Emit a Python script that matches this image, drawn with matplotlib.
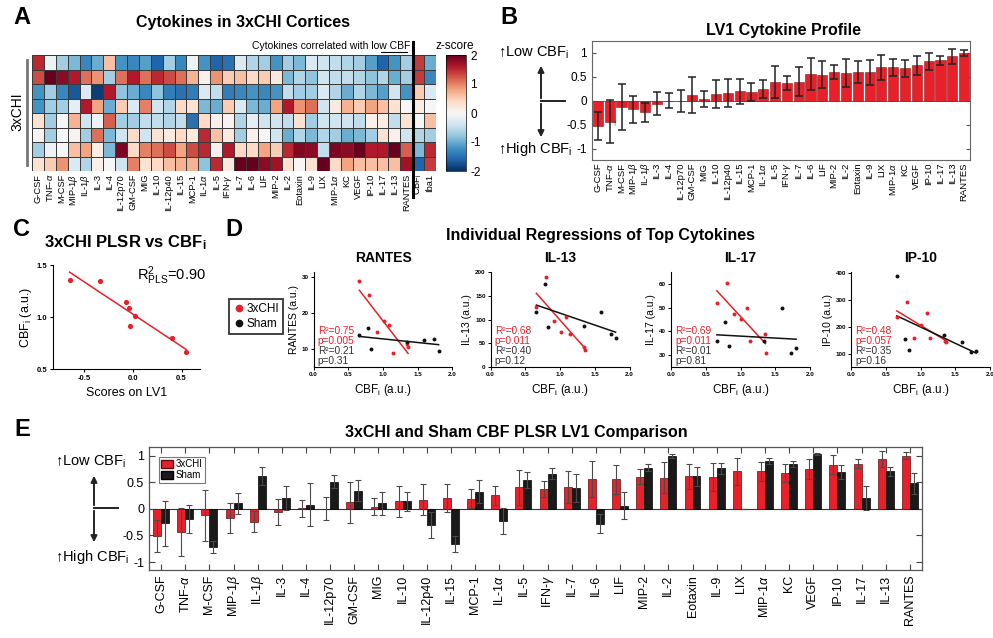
import numpy as np
import matplotlib.pyplot as plt
from matplotlib.lines import Line2D
from matplotlib.patches import FancyArrowPatch, Patch

plt.rcParams['font.family'] = ['Liberation Sans', 'DejaVu Sans']
plt.rcParams['mathtext.fontset'] = 'custom'
plt.rcParams['mathtext.rm'] = 'Liberation Sans'
plt.rcParams['mathtext.it'] = 'Liberation Sans:italic'
plt.rcParams['mathtext.bf'] = 'Liberation Sans:bold'
plt.rcParams['axes.unicode_minus'] = False

# ---------------- data ----------------
cytokines = ['G-CSF', r'TNF-$\alpha$', 'M-CSF', r'MIP-1$\beta$', r'IL-1$\beta$', 'IL-3', 'IL-4',
             'IL-12p70', 'GM-CSF', 'MIG', 'IL-10', 'IL-12p40', 'IL-15', 'MCP-1', r'IL-1$\alpha$',
             'IL-5', r'IFN-$\gamma$', 'IL-7', 'IL-6', 'LIF', 'MIP-2', 'IL-2', 'Eotaxin', 'IL-9',
             'LIX', r'MIP-1$\alpha$', 'KC', 'VEGF', 'IP-10', 'IL-17', 'IL-13', 'RANTES']
heat_cols = cytokines + [r'CBF$_\mathregular{i}$', 'Iba1']

# z-scores, 8 animals x 34 columns
zscores = [
    [1.5, -0.1, -0.7, -0.9, -1.3, -1.0, 0.6, -1.2, -1.3, -1.1, -1.6, -0.7, -1.3, -0.1, -1.2, -1.6, -1.5,
     -0.3, -0.6, -0.7, -1.2, -0.7, -0.9, -0.3, -0.4, -0.5, -0.6, -0.7, -1.1, -1.6, -1.2, -0.7, 1.4, -1.0],
    [1.3, 2.0, 1.8, 1.6, 1.1, 0.9, -0.7, 1.1, 1.6, 1.1, 1.5, 1.3, 1.1, 0.7, 0.1, 0.9, 0.5,
     0.6, 0.4, 0.5, 0.2, -0.9, -0.6, -0.8, -0.4, -0.5, -0.5, -0.6, -0.8, -0.6, -1.0, -0.7, 1.4, -1.3],
    [-1.2, -0.7, -1.3, -1.7, -0.3, -1.9, 1.6, -0.8, -1.0, -1.3, -0.8, -1.4, -1.5, -1.4, -0.3, -0.5, -1.4,
     -1.3, -1.2, -1.3, -1.2, -0.5, -0.7, -0.7, -0.3, -0.6, -1.0, -0.6, -0.9, -1.1, -0.4, -1.2, 0.5, -0.3],
    [-1.2, -0.7, -0.7, -0.2, 1.6, 0.8, -1.0, 0.5, -0.3, 1.0, -0.4, -0.6, 0.4, 0.3, -0.9, -1.0, 0.5,
     -0.3, -0.9, -1.0, 0.8, 1.6, 0.9, 1.1, -0.4, 0.2, 0.7, 0.5, 0.8, 0.6, 0.3, 0.0, 0.15, 0.0],
    [0.3, -0.7, 0.0, 0.7, -0.4, -0.1, 1.2, -0.7, -0.7, -0.5, -0.5, -0.6, -0.5, -1.5, 0.4, 0.1, 0.05,
     -0.6, -0.2, -0.4, -0.4, -0.5, 0.3, -0.7, -0.4, -0.4, -0.4, -0.5, 0.1, 0.15, -0.5, 0.3, 0.0, 0.6],
    [0.05, -0.7, 0.0, 0.05, -0.7, 1.1, -0.9, -0.4, 0.4, -0.4, 0.3, 0.2, 0.4, 0.2, 1.5, 0.6, 0.2,
     -0.7, 0.1, 0.0, -0.4, -1.0, -0.6, -0.9, -0.6, -0.7, -1.0, -0.9, -0.7, 0.3, 0.1, -0.4, -0.6, -0.7],
    [-0.7, -0.1, 0.0, 0.6, 0.8, 0.15, -0.9, 1.9, 0.4, 1.0, 1.1, 1.3, 0.8, 1.3, 1.5, 0.1, 1.6,
     0.4, 0.4, 0.8, 0.5, 1.5, 1.85, 1.8, -0.5, 1.9, 1.8, 2.0, 1.6, 1.6, 2.0, 1.2, -0.9, 1.5],
    [0.3, 0.5, 0.9, -0.3, -0.6, 0.1, 0.0, -0.4, 1.0, 0.3, 0.4, 0.6, 0.7, 0.7, -0.8, 1.5, 0.2,
     2.0, 2.0, 1.8, 1.7, 0.3, 0.0, 0.3, 2.0, 0.4, 0.8, 0.6, 0.6, 0.6, 0.6, 1.7, -1.6, 1.4],
]

# LV1 loadings (3xCHI) and error, LV1 loadings (Sham) and error
lv1_3xchi = [-0.52, -0.43, -0.12, -0.17, -0.24, -0.06, 0.01, 0.0, 0.12, 0.04, 0.14, 0.17, 0.20, 0.19,
             0.25, 0.40, 0.38, 0.40, 0.56, 0.55, 0.60, 0.58, 0.61, 0.60, 0.70, 0.70, 0.68, 0.74,
             0.83, 0.85, 0.93, 1.00]
lv1_3xchi_err = [0.30, 0.45, 0.48, 0.28, 0.20, 0.24, 0.16, 0.22, 0.38, 0.16, 0.29, 0.29, 0.26, 0.18,
                 0.18, 0.33, 0.15, 0.30, 0.33, 0.28, 0.14, 0.29, 0.23, 0.26, 0.26, 0.17, 0.17, 0.19,
                 0.18, 0.09, 0.15, 0.06]
lv1_sham = [-0.27, -0.19, -0.72, 0.10, 0.61, 0.20, 0.08, 0.51, 0.34, 0.10, 0.14, -0.31, -0.67, 0.32,
            -0.23, 0.54, 0.66, 0.39, -0.28, 0.06, 0.77, 0.99, 0.61, 0.76, 0.0, 0.90, 0.84, 1.03,
            0.69, 0.20, 0.70, 0.48]
lv1_sham_err = [0.42, 0.27, 0.12, 0.19, 0.17, 0.23, 0.41, 0.12, 0.20, 0.21, 0.18, 0.24, 0.15, 0.22,
                0.24, 0.15, 0.10, 0.26, 0.18, 0.26, 0.07, 0.04, 0.18, 0.10, 0.0, 0.05, 0.06, 0.02,
                0.13, 0.23, 0.09, 0.20]

# per-animal CBFi
cbf_3xchi = [0.66, 0.80, 0.91, 1.01, 1.09, 1.14, 1.35, 1.36]
cbf_sham = [0.66, 0.78, 0.83, 1.34, 1.59, 1.73, 1.80]
lv1_scores = [0.55, 0.40, -0.03, 0.025, -0.035, -0.075, -0.34, -0.65]

reg_names = ['RANTES', 'IL-13', 'IL-17', 'IP-10']
reg_3xchi = [[29.0, 25.2, 14.8, 17.9, 16.85, 8.9, 11.4, 10.7],
             [126, 190, 96, 73, 105, 70, 43, 35],
             [51.8, 60.2, 47.4, 45.3, 49.9, 35.8, 38.8, 30.8],
             [237, 294, 159, 208, 250, 159, 147, 143]]
reg_sham = [[13.9, 15.8, 9.9, 12.0, 12.4, 12.9, 9.5],
            [115, 175, 85, 87, 115, 69, 61],
            [35.9, 44, 33.9, 35.8, 49.9, 30.8, 32.9],
            [390, 155, 112, 169, 145, 105, 110]]
reg_stats = [('0.75', '0.005', '0.21', '0.31'),
             ('0.68', '0.011', '0.40', '0.12'),
             ('0.69', '0.011', '0.01', '0.81'),
             ('0.48', '0.057', '0.35', '0.16')]
reg_ylims = [(5, 31.5), (0, 200), (25, 65), (50, 405)]
reg_yticks = [[10, 20, 30], [0, 50, 100, 150, 200], [30, 40, 50, 60], [100, 200, 300, 400]]

# ---------------- layout helpers ----------------
W, H = 993, 638
RED = '#e8202a'
fig = plt.figure(figsize=(W / 100, H / 100), dpi=100)


def rect(x0, y0, x1, y1):
    return [x0 / W, 1 - y1 / H, (x1 - x0) / W, (y1 - y0) / H]


def ftext(x, y, s, **kw):
    kw.setdefault('ha', 'center')
    kw.setdefault('va', 'center')
    fig.text(x / W, 1 - y / H, s, **kw)


def fline(xs, ys, **kw):
    fig.add_artist(Line2D([x / W for x in xs], [1 - y / H for y in ys],
                          transform=fig.transFigure, **kw))


def farrow(x, y0, y1):
    fig.add_artist(FancyArrowPatch((x / W, 1 - y0 / H), (x / W, 1 - y1 / H),
                                   transform=fig.transFigure, arrowstyle='-|>',
                                   mutation_scale=9, color='#222', lw=1.4))


# panel letters
for letter, (x, y) in zip('ABCDE', [(22, 18), (509, 18), (22, 229), (234, 229), (22, 430)]):
    ftext(x, y, letter, fontsize=17, fontweight='bold')

# ---------------- A: heatmap ----------------
ftext(243, 23, 'Cytokines in 3xCHI Cortices', fontsize=11.5, fontweight='bold')
ax_a = fig.add_axes(rect(32, 55, 436, 171))
mesh = ax_a.pcolormesh(np.array(zscores), cmap='RdBu_r', vmin=-2, vmax=2,
                       edgecolors='#3a3a3a', linewidth=0.6)
ax_a.set_xlim(0, len(heat_cols))
ax_a.set_ylim(len(zscores), 0)
ax_a.set_xticks(np.arange(len(heat_cols)) + 0.5)
ax_a.set_xticklabels(heat_cols, rotation=90, fontsize=6.7)
ax_a.set_yticks([])
ax_a.tick_params(length=0, pad=2)
for s in ax_a.spines.values():
    s.set_visible(False)

cax = fig.add_axes(rect(446, 55, 466, 171))
cb = fig.colorbar(mesh, cax=cax, ticks=[-2, -1, 0, 1, 2])
cb.outline.set_linewidth(0.5)
cax.tick_params(labelsize=8.5, length=0, pad=3)
ftext(455, 46, 'z-score', fontsize=8.5)

ftext(410, 46, 'Cytokines correlated with low CBF', fontsize=7.5, ha='right')
fline([381, 407], [52, 52], color='k', lw=0.8)
fline([413, 413], [42, 197], color='k', lw=2.2)
ftext(17, 112, '3xCHI', fontsize=10, rotation=90)
fline([27, 27], [60, 165], color='#777', lw=2)

# ---------------- B: LV1 profile ----------------
ftext(783, 30, 'LV1 Cytokine Profile', fontsize=11.5, fontweight='bold')
ax_b = fig.add_axes(rect(592, 41, 970, 160))
xb = np.arange(len(cytokines))
ax_b.bar(xb, lv1_3xchi, width=0.86, color=RED, edgecolor='#8c1b1f', linewidth=0.4, zorder=2)
ax_b.errorbar(xb, lv1_3xchi, yerr=lv1_3xchi_err, fmt='none', ecolor='#222',
              elinewidth=1.1, capsize=3, capthick=1.1, zorder=3)
ax_b.axhline(0, color='#555', lw=0.6, zorder=1)
ax_b.set_xlim(-0.5, len(cytokines) - 0.5)
ax_b.set_ylim(-1.23, 1.25)
ax_b.set_yticks([-1, -0.5, 0, 0.5, 1])
ax_b.set_yticklabels(['-1', '-0.5', '0', '0.5', '1'], fontsize=8.5)
ax_b.set_xticks(xb)
ax_b.set_xticklabels(cytokines, rotation=90, fontsize=6.8)
ax_b.tick_params(axis='x', length=0, pad=2)
ax_b.tick_params(axis='y', direction='in', length=3, right=True, color='#555')
for s in ax_b.spines.values():
    s.set_color('#666')
    s.set_linewidth(0.8)

ftext(498, 53, r'↑Low CBF$_\mathregular{i}$', fontsize=10.5, ha='left')
ftext(498, 149, r'↑High CBF$_\mathregular{i}$', fontsize=10.5, ha='left')
farrow(541, 101, 63)
farrow(541, 101, 140)
fline([541, 565], [101, 101], color='#222', lw=1.4)
ftext(615, 125, '↑', fontsize=6)

# ---------------- C: PLSR scores vs CBF ----------------
ftext(125, 243, r'3xCHI PLSR vs CBF$_\mathregular{i}$', fontsize=12, fontweight='bold')
ax_c = fig.add_axes(rect(53, 265, 200, 369))
ax_c.scatter(lv1_scores, cbf_3xchi, s=14, color=RED, zorder=3, linewidths=0)
k, b = np.polyfit(lv1_scores, cbf_3xchi, 1)
xs = np.array([min(lv1_scores), max(lv1_scores)])
ax_c.plot(xs, k * xs + b, color=RED, lw=1.1)
ax_c.set_xlim(-0.82, 0.69)
ax_c.set_ylim(0.5, 1.5)
ax_c.set_xticks([-0.5, 0.0, 0.5])
ax_c.set_xticklabels(['-0.5', '0.0', '0.5'])
ax_c.set_yticks([0.5, 1.0, 1.5])
ax_c.set_yticklabels(['0.5', '1.0', '1.5'])
ax_c.tick_params(labelsize=5.5, length=2.5, width=0.8, pad=1.5)
for t in ax_c.get_xticklabels() + ax_c.get_yticklabels():
    t.set_fontweight('bold')
ax_c.spines[['top', 'right']].set_visible(False)
ax_c.set_xlabel('Scores on LV1', fontsize=9, labelpad=4)
ax_c.set_ylabel(r'CBF$_\mathregular{i}$ (a.u.)', fontsize=9, labelpad=2)
ftext(137, 276, r'R$^2_\mathregular{PLS}$=0.90', fontsize=10.5, ha='left')

# ---------------- D: individual regressions ----------------
ftext(601, 236, 'Individual Regressions of Top Cytokines', fontsize=11.5, fontweight='bold')
d_left = [313.5, 490.5, 671, 851]
for i, name in enumerate(reg_names):
    x0 = d_left[i]
    ax = fig.add_axes(rect(x0, 272, x0 + 139, 367))
    for cbf, vals, col in [(cbf_3xchi, reg_3xchi[i], RED), (cbf_sham, reg_sham[i], '#111')]:
        ax.scatter(cbf, vals, s=8, color=col, zorder=3, linewidths=0)
        k, b = np.polyfit(cbf, vals, 1)
        xs = np.array([min(cbf), max(cbf)])
        ax.plot(xs, k * xs + b, color=col, lw=1.1, zorder=2)
    ax.set_xlim(0, 2)
    ax.set_ylim(*reg_ylims[i])
    ax.set_xticks([0, 0.5, 1.0, 1.5, 2.0])
    ax.set_xticklabels(['0.0', '0.5', '1.0', '1.5', '2.0'])
    ax.set_yticks(reg_yticks[i])
    ax.tick_params(labelsize=4.5, length=2, width=0.7, pad=1.5)
    for t in ax.get_xticklabels() + ax.get_yticklabels():
        t.set_fontweight('bold')
    ax.spines[['top', 'right']].set_visible(False)
    ax.set_xlabel(r'CBF$_\mathregular{i}$ (a.u.)', fontsize=8.5, labelpad=4)
    ax.set_ylabel(name + ' (a.u.)', fontsize=7.5, labelpad=2)
    ax.set_title(name, fontsize=10, fontweight='bold', pad=7)
    r2c, pc, r2s, ps = reg_stats[i]
    for j, (s, col) in enumerate([('R²=' + r2c, RED), ('p=' + pc, RED),
                                  ('R²=' + r2s, '#333'), ('p=' + ps, '#333')]):
        ax.text(0.03, 0.38 - j * 0.105, s, transform=ax.transAxes, fontsize=7.3,
                color=col, va='center')

d_handles = [Line2D([], [], marker='o', ls='none', color=RED, markersize=4.5, label='3xCHI'),
             Line2D([], [], marker='o', ls='none', color='#111', markersize=4.5, label='Sham')]
leg = fig.legend(handles=d_handles, loc='upper left', bbox_to_anchor=(229 / W, 1 - 299 / H),
                 fontsize=8.5, frameon=True, fancybox=False, handletextpad=0.1,
                 handlelength=1.0, borderpad=0.35, labelspacing=0.25, borderaxespad=0)
leg.get_frame().set_edgecolor('k')
leg.get_frame().set_linewidth(1.3)

# ---------------- E: 3xCHI vs Sham comparison ----------------
ftext(516, 433, '3xCHI and Sham CBF PLSR LV1 Comparison', fontsize=11.5, fontweight='bold')
ax_e = fig.add_axes(rect(149, 447, 922, 570))
xe = np.arange(len(cytokines))
bw = 0.33
ax_e.bar(xe - bw / 2, lv1_3xchi, width=bw, color=RED, edgecolor='#5a1012', linewidth=0.5,
         label='3xCHI', zorder=2)
ax_e.bar(xe + bw / 2, lv1_sham, width=bw, color='#1a1a1a', edgecolor='#000', linewidth=0.5,
         label='Sham', zorder=2)
ax_e.errorbar(xe - bw / 2, lv1_3xchi, yerr=lv1_3xchi_err, fmt='none', ecolor='#4a4a4a',
              elinewidth=0.8, capsize=2.5, capthick=0.8, zorder=3)
ax_e.errorbar(xe + bw / 2, lv1_sham, yerr=lv1_sham_err, fmt='none', ecolor='#4a4a4a',
              elinewidth=0.8, capsize=2.5, capthick=0.8, zorder=3)
ax_e.axhline(0, color='#333', lw=0.8, zorder=1)
ax_e.set_xlim(-0.5, len(cytokines) - 0.5)
ax_e.set_ylim(-1.15, 1.16)
ax_e.set_yticks([-1, -0.5, 0, 0.5, 1])
ax_e.set_yticklabels(['-1', '-0.5', '0', '0.5', '1'], fontsize=9)
ax_e.set_xticks(xe)
ax_e.set_xticklabels(cytokines, rotation=90, fontsize=9)
ax_e.tick_params(direction='in', top=True, right=True, length=4, width=0.8, color='#444')
for s in ax_e.spines.values():
    s.set_color('#555')
    s.set_linewidth(0.9)
leg_e = ax_e.legend(handles=[Patch(facecolor=RED, edgecolor='#5a1012', label='3xCHI'),
                             Patch(facecolor='#1a1a1a', edgecolor='k', label='Sham')],
                    loc='upper left', bbox_to_anchor=(10 / 773, 1 - 10 / 123), fontsize=7,
                    frameon=True, fancybox=False, handlelength=1.2, handleheight=0.9,
                    handletextpad=0.3, borderpad=0.25, labelspacing=0.1, borderaxespad=0)
leg_e.get_frame().set_edgecolor('#555')
leg_e.get_frame().set_linewidth(0.8)

ftext(55, 462, r'↑Low CBF$_\mathregular{i}$', fontsize=10.5, ha='left')
ftext(55, 557, r'↑High CBF$_\mathregular{i}$', fontsize=10.5, ha='left')
farrow(94, 508, 473)
farrow(94, 508, 545)
fline([94, 118], [508, 508], color='#222', lw=1.4)

fig.savefig('out.png', dpi=100)
